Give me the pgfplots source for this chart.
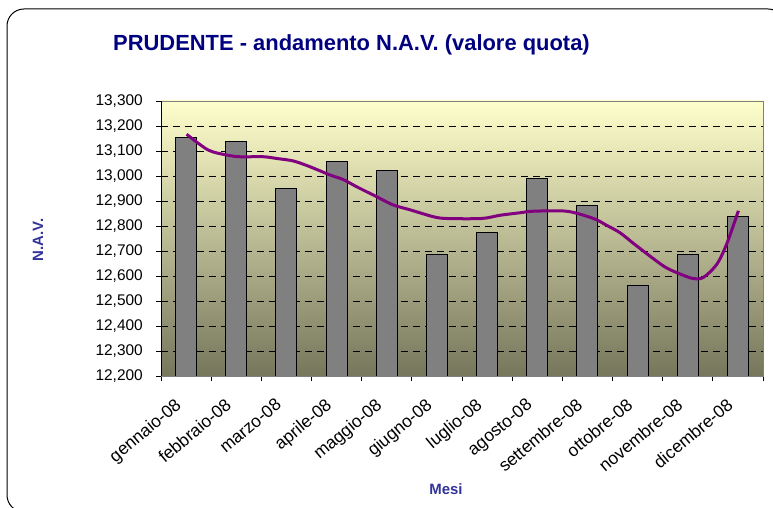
\documentclass[border=0pt]{standalone}
\usepackage{fontspec}
\setmainfont{Liberation Sans}
\usepackage{pgfplots}
\pgfplotsset{compat=1.18}
\definecolor{navytitle}{RGB}{0,0,128}
\definecolor{axlabel}{RGB}{51,51,153}
\definecolor{bgtop}{RGB}{255,255,204}
\definecolor{bgbot}{RGB}{118,118,92}
\definecolor{bargray}{RGB}{128,128,128}
\definecolor{navline}{RGB}{128,0,128}

\begin{document}
\begin{tikzpicture}
\useasboundingbox (0,0) rectangle (773bp,508bp);
\clip (0,0) rectangle (773bp,508bp);
\fill[white] (0,0) rectangle (773bp,508bp);
% cornice del grafico
\draw[line width=1bp, rounded corners=17bp] (7bp,499bp) rectangle (785bp,-4bp);

\node[anchor=west, text=navytitle, font=\fontsize{22}{24}\selectfont\bfseries, inner sep=0pt]
  at (113bp,463bp) {PRUDENTE - andamento N.A.V. (valore quota)};
\node[text=axlabel, font=\fontsize{15}{18}\selectfont\bfseries, rotate=90]
  at (38bp,268bp) {N.A.V.};
\node[text=axlabel, font=\fontsize{15}{18}\selectfont\bfseries]
  at (446bp,19bp) {Mesi};

\begin{axis}[
  at={(161bp,132bp)}, anchor=south west,
  scale only axis, width=602bp, height=275bp,
  xmin=-0.5, xmax=11.5, ymin=12200, ymax=13300,
  xtick={0,...,11},
  xticklabels={gennaio-08,febbraio-08,marzo-08,aprile-08,maggio-08,giugno-08,luglio-08,agosto-08,settembre-08,ottobre-08,novembre-08,dicembre-08},
  major x tick style={draw=none},
  minor xtick={-0.5,0.5,...,11.5},
  ytick={12200,12300,...,13300},
  scaled y ticks=false,
  extra y ticks={12300,12400,...,13200},
  extra y tick labels={},
  extra y tick style={grid=major, major grid style={black, line width=0.8bp, dash pattern=on 7bp off 5bp}},
  tick pos=left,
  tick align=outside,
  major tick length=5bp, minor tick length=5bp,
  tick style={black, line width=0.8bp},
  axis line style={draw=bargray, line width=0.8bp},
  axis background/.style={top color=bgtop, bottom color=bgbot},
  /pgf/number format/.cd, 1000 sep={,}, assume math mode=true,
  /pgfplots/.cd,
  yticklabel style={font=\fontsize{15.5}{18}\selectfont, inner sep=0pt, xshift=-13bp},
  xticklabel style={font=\fontsize{17.5}{18}\selectfont, inner sep=0pt, anchor=north east, xshift=-12bp, yshift=-16bp, rotate=40},
]
\addplot[ybar, bar width=21bp, fill=bargray, draw=black, line width=1bp] coordinates {
  (0,13155) (1,13137) (2,12948) (3,13056) (4,13020) (5,12686)
  (6,12774) (7,12989) (8,12881) (9,12560) (10,12686) (11,12839)
};
\addplot[navline, line width=3bp, smooth] coordinates {
  (0.01,13167) (0.44,13104) (0.81,13084) (1.07,13077) (1.54,13077) (1.81,13070)
  (2.14,13060) (2.47,13037) (2.87,13004) (3.13,12986) (3.40,12957) (3.80,12917)
  (4.13,12884) (4.46,12865) (4.93,12837) (5.20,12830) (5.89,12830) (6.26,12843)
  (6.66,12853) (6.92,12859) (7.59,12859) (8.12,12830) (8.38,12803) (8.65,12773)
  (8.92,12730) (9.31,12670) (9.58,12632) (9.91,12603) (10.11,12590) (10.31,12594)
  (10.58,12647) (10.78,12730) (11.01,12861)
};
\draw[black, line width=0.8bp] (rel axis cs:0,1) -- (rel axis cs:0,0) -- (rel axis cs:1,0);
\end{axis}
\end{tikzpicture}
\end{document}
